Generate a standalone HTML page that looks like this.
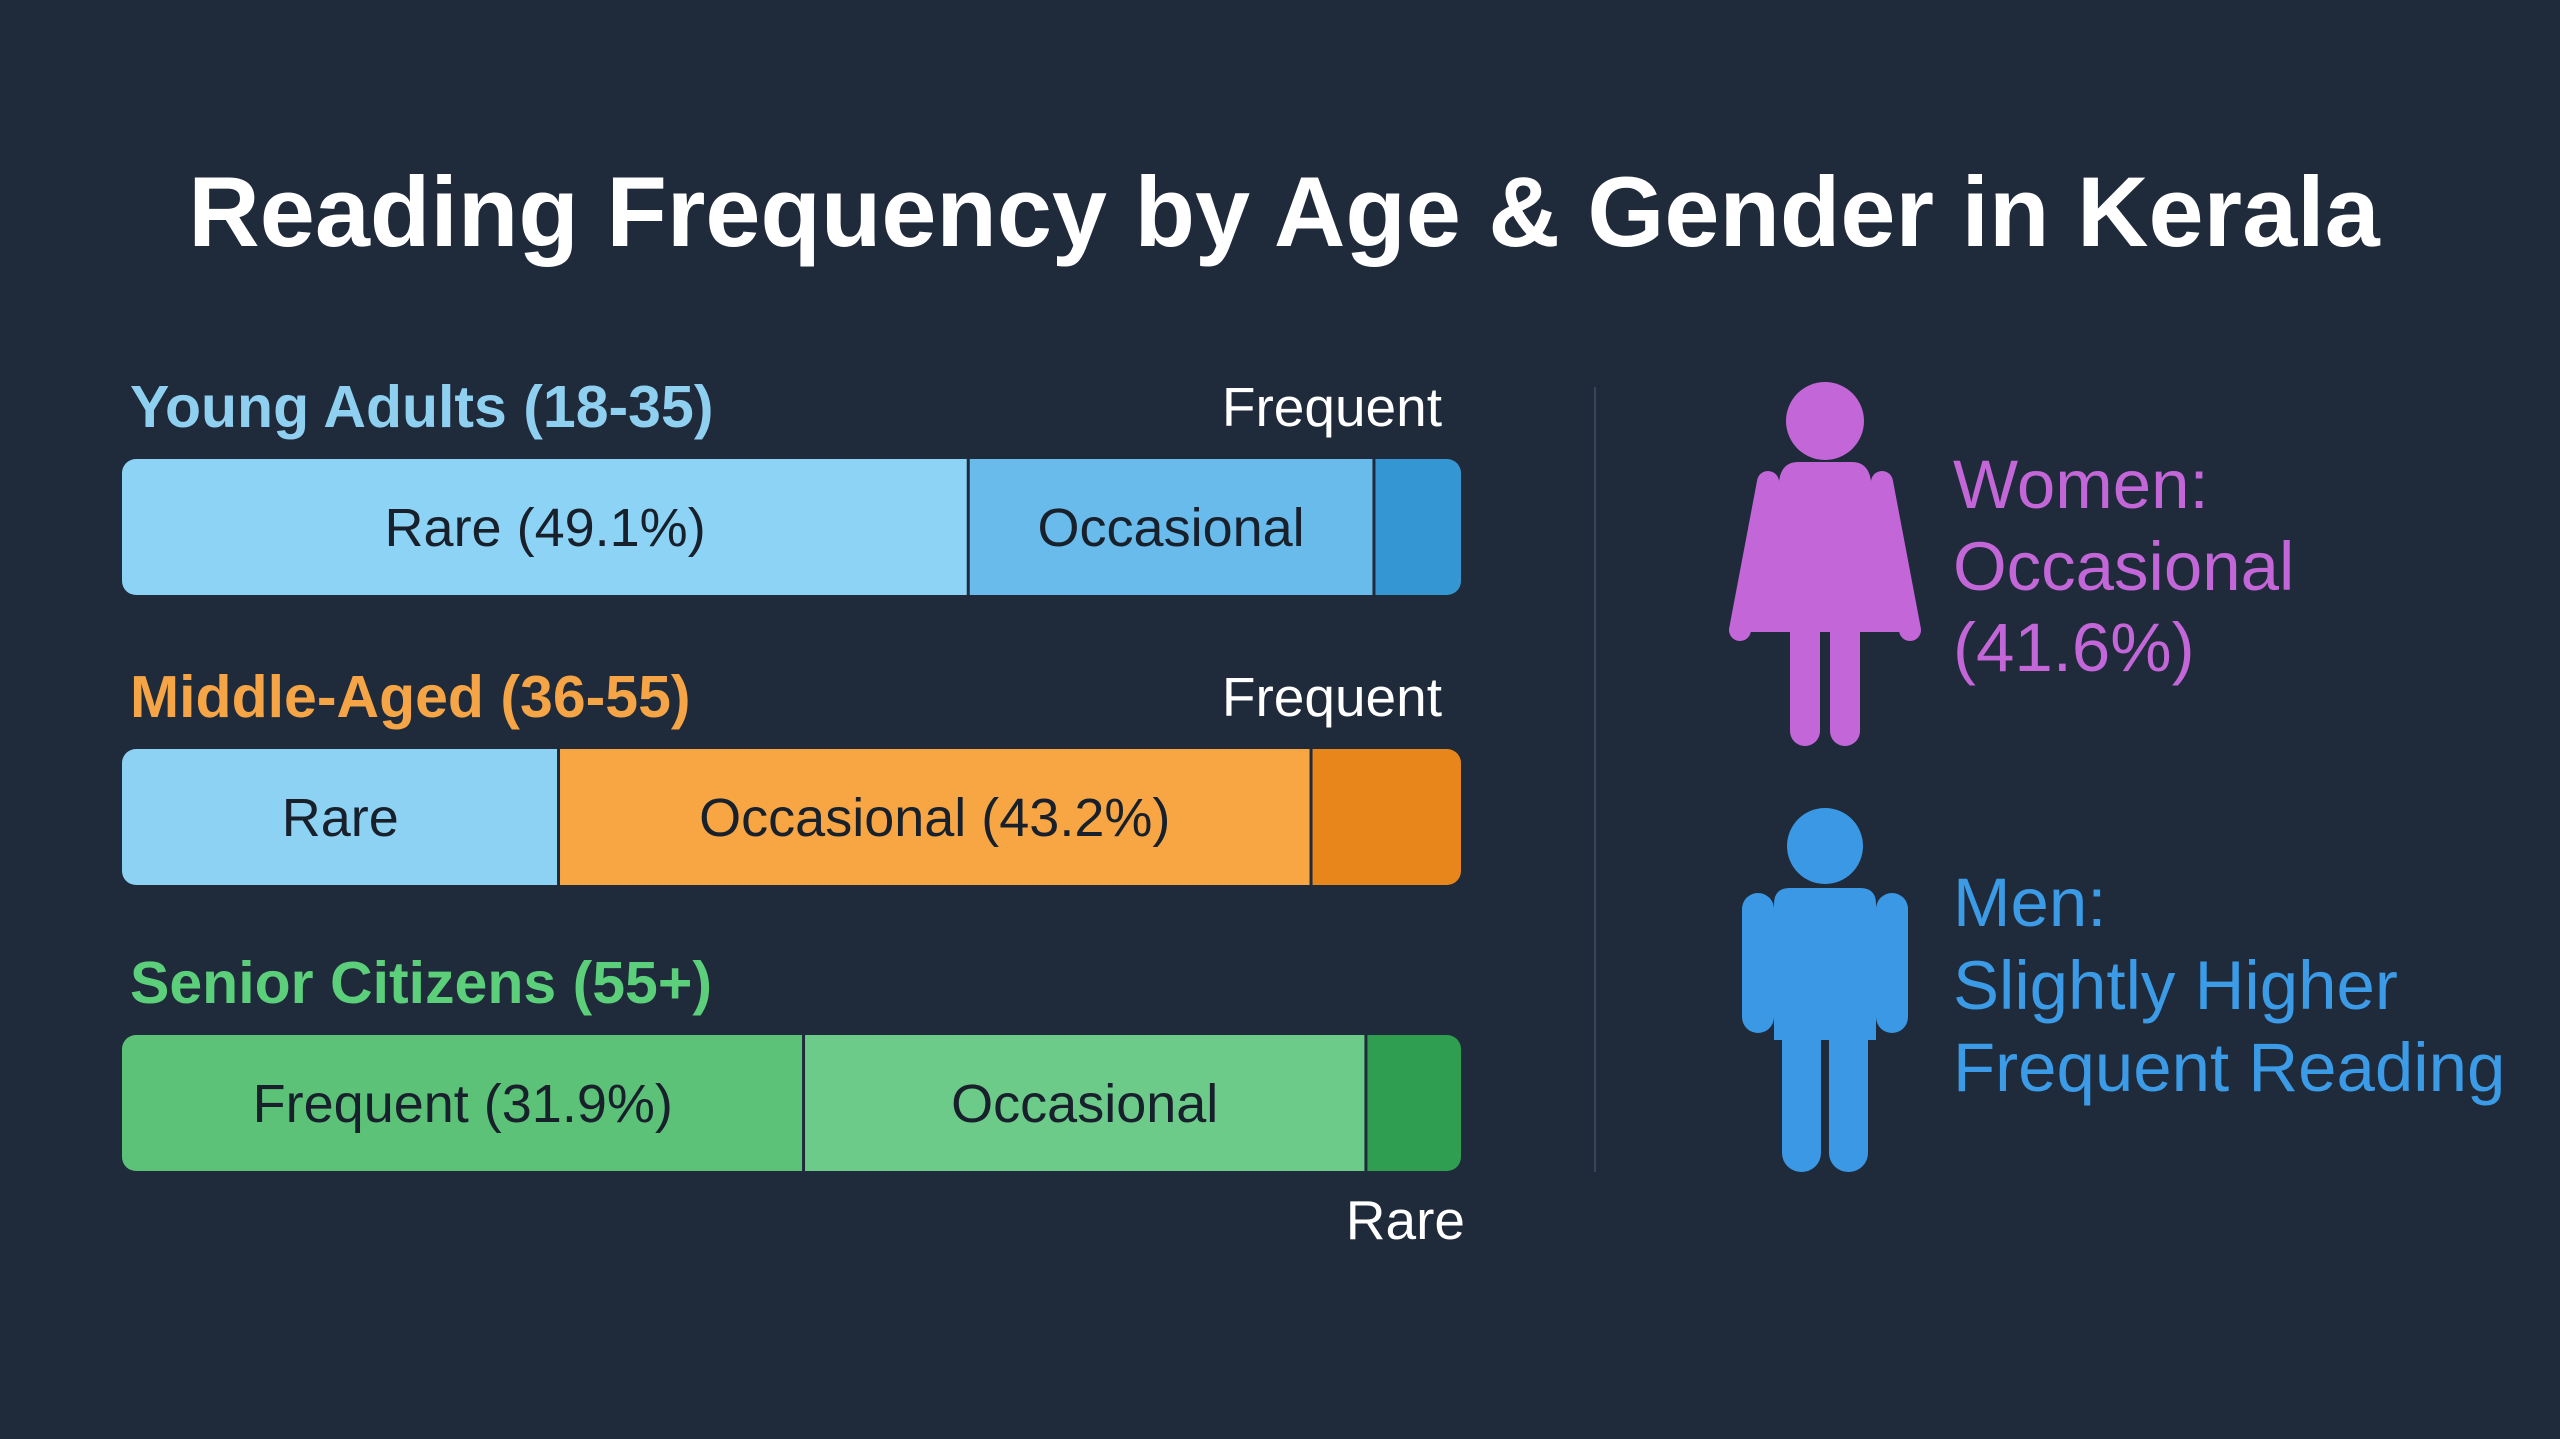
<!DOCTYPE html>
<html><head><meta charset="utf-8"><style>
html,body{margin:0;padding:0;background:#1f2a3b;}
svg{display:block;font-family:"Liberation Sans",sans-serif;}
</style></head><body>
<svg id="chart" width="2560" height="1439" viewBox="0 0 2560 1439">
<rect width="2560" height="1439" fill="#1f2a3b"/>
<text x="1284" y="246" text-anchor="middle" font-size="99" font-weight="bold" fill="#ffffff">Reading Frequency by Age &amp; Gender in Kerala</text>
<line x1="1595" y1="387" x2="1595" y2="1172" stroke="#3a4657" stroke-width="2"/>
<g id="bars"></g>
<g fill="#c266d8">
<circle cx="1825" cy="421" r="39"/>
<path d="M1798 462 L1852 462 Q1866 462 1870 476 L1902 632 L1748 632 L1780 476 Q1784 462 1798 462 Z"/>
<path d="M1768 482 L1740 630" stroke="#c266d8" stroke-width="22" stroke-linecap="round" fill="none"/>
<path d="M1882 482 L1910 630" stroke="#c266d8" stroke-width="22" stroke-linecap="round" fill="none"/>
<rect x="1790" y="600" width="30" height="146" rx="15"/>
<rect x="1830" y="600" width="30" height="146" rx="15"/>
</g>
<g fill="#3a98e4">
<circle cx="1825" cy="846" r="38"/>
<path d="M1790 888 L1860 888 Q1876 888 1876 904 L1876 1040 L1774 1040 L1774 904 Q1774 888 1790 888 Z"/>
<rect x="1742" y="893" width="32" height="140" rx="16"/>
<rect x="1876" y="893" width="32" height="140" rx="16"/>
<rect x="1782" y="1000" width="39" height="172" rx="19"/>
<rect x="1829" y="1000" width="39" height="172" rx="19"/>
</g>
<g font-size="69" fill="#c266d8">
<text x="1953" y="508">Women:</text>
<text x="1953" y="590">Occasional</text>
<text x="1953" y="671">(41.6%)</text>
</g>
<g font-size="69" fill="#3b9be6">
<text x="1953" y="926">Men:</text>
<text x="1953" y="1009">Slightly Higher</text>
<text x="1953" y="1091">Frequent Reading</text>
</g>
</svg>
<script>
const groups = ["Young Adults (18-35)", "Middle-Aged (36-55)", "Senior Citizens (55+)"];
const segNames = [["Rare","Occasional","Frequent"],["Rare","Occasional","Frequent"],["Frequent","Occasional","Rare"]];
const segValues = [[63.2,30.3,6.5],[32.6,56.2,11.2],[50.9,42.0,7.1]];
const segLabels = [["Rare (49.1%)","Occasional",""],["Rare","Occasional (43.2%)",""],["Frequent (31.9%)","Occasional",""]];
const outsideLabels = ["Frequent","Frequent","Rare"];
const groupColors = ["#8fd0f0","#f5a545","#5ccf7a"];
const segColors = [["#8dd3f5","#68bbeb","#3497d4"],["#8dd1f3","#f8a644","#e8861c"],["#5cc278","#6dcb89","#2f9e51"]];

const NS="http://www.w3.org/2000/svg";
const g=document.getElementById('bars');
const x0=122, x1=1461;
const xScale=v=>x0+(x1-x0)*v/100;
const barTop=[459,749,1035], barH=136;
function mk(t,a){const e=document.createElementNS(NS,t);for(const k in a)e.setAttribute(k,a[k]);return e;}
const defs=mk('defs',{});g.appendChild(defs);
groups.forEach((name,i)=>{
  const y=barTop[i];
  const lab=mk('text',{x:130,y:y-32,'font-size':59,'font-weight':'bold',fill:groupColors[i]});
  lab.textContent=name;
  
  
  g.appendChild(lab);
  const cp=mk('clipPath',{id:'clip'+i});
  cp.appendChild(mk('rect',{x:x0,y:y,width:x1-x0,height:barH,rx:14}));
  defs.appendChild(cp);
  const bg=mk('g',{'clip-path':'url(#clip'+i+')'});
  g.appendChild(bg);
  const total=segValues[i].reduce((a,b)=>a+b,0);
  let acc=0;
  segValues[i].forEach((v,j)=>{
    const xa=xScale(acc/total*100), xb=xScale((acc+v)/total*100);
    const r=mk('rect',{x:xa,y:y,width:xb-xa,height:barH,fill:segColors[i][j]});
    
    
    bg.appendChild(r);
    if(j>0){const l=mk('line',{x1:xa,y1:y,x2:xa,y2:y+barH,stroke:'#1f2a3b','stroke-width':3});
      
      
      bg.appendChild(l);}
    if(segLabels[i][j]){
      const t=mk('text',{x:(xa+xb)/2,y:y+barH/2+19,'text-anchor':'middle','font-size':54,fill:'#18202c'});
      t.textContent=segLabels[i][j];
      
      
      g.appendChild(t);
    }
    acc+=v;
  });
  const oy = i<2 ? y-33 : y+barH+68;
  const ox = i<2 ? 1442 : 1465;
  const o=mk('text',{x:ox,y:oy,'text-anchor':'end','font-size':55,fill:'#ffffff'});
  o.textContent=outsideLabels[i];
  
  
  g.appendChild(o);
});
</script>
</body></html>
